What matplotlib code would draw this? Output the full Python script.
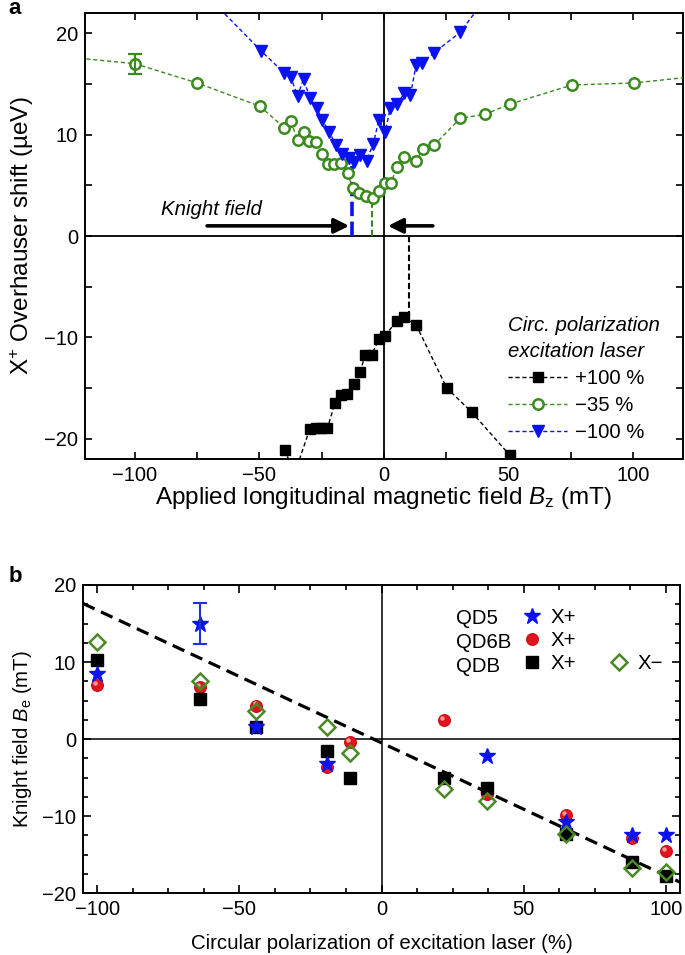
import matplotlib
matplotlib.use('Agg')
import matplotlib.pyplot as plt
from matplotlib.lines import Line2D
from matplotlib.ticker import MultipleLocator
from matplotlib.transforms import offset_copy

plt.rcParams['font.family'] = ['Liberation Sans', 'DejaVu Sans']
plt.rcParams['font.size'] = 14.5
plt.rcParams['mathtext.fontset'] = 'custom'
plt.rcParams['mathtext.rm'] = 'Liberation Sans'
plt.rcParams['mathtext.it'] = 'Liberation Sans:italic'
plt.rcParams['mathtext.bf'] = 'Liberation Sans:bold'

# ---------------- Panel a data ----------------
# +100 % excitation (black squares)
p100_x = [-39.8, -36.0, -29.7, -27.4, -25.1, -22.7, -19.7, -17.3, -15.0, -12.2, -9.5,
          -7.6, -4.9, -2.1, 0.4, 5.2, 7.9, 12.9, 25.2, 35.3, 50.4]
p100_y = [-21.1, -23.5, -19.0, -18.9, -18.9, -18.95, -16.5, -15.7, -15.6, -14.6, -13.4,
          -11.7, -11.7, -10.2, -9.85, -8.35, -8.0, -8.77, -15.0, -17.4, -21.6]

# -35 % excitation (green open circles)
m35_x = [-150, -100, -75, -49.8, -40.1, -37.4, -34.7, -32.3, -30.0, -27.4, -24.9, -22.4,
         -20.0, -17.3, -14.6, -12.6, -9.9, -7.2, -4.5, -2.1, 0.5, 2.8, 5.2, 7.9, 12.9,
         15.6, 20.2, 30.6, 40.4, 50.4, 75.5, 100.5, 150]
m35_y = [18.2, 17.0, 15.1, 12.8, 10.7, 11.3, 9.46, 10.3, 9.4, 9.3, 8.1, 7.06,
         7.06, 7.2, 6.2, 4.7, 4.27, 3.94, 3.7, 4.43, 5.2, 5.25, 6.8, 7.75, 7.4,
         8.6, 9.0, 11.6, 12.0, 13.0, 14.9, 15.1, 16.4]
m35_err_x = [-100]
m35_err_y = [17.0]
m35_err = [1.0]

# -100 % excitation (blue down triangles)
m100_x = [-75, -49.5, -40.1, -37.4, -34.7, -32.3, -29.7, -27.0, -24.7, -22.0, -19.3, -16.9,
          -14.2, -11.9, -9.7, -7.0, -4.3, -2.1, 0.5, 2.5, 5.2, 8.2, 10.6, 12.9, 15.3,
          20.2, 30.6, 40]
m100_y = [24.7, 18.3, 16.1, 15.7, 13.8, 15.5, 13.6, 12.6, 11.4, 10.3, 8.97, 8.1,
          7.7, 7.3, 7.98, 7.4, 9.1, 11.4, 10.3, 12.6, 13.0, 14.1, 13.9, 16.9, 17.1,
          18.1, 20.1, 23.2]

# Knight field markers (vertical dashed lines)
knight_x = [-12.9, -5.0, 10.2]
knight_top = [6.9, 3.6, -7.6]

# arrows (tail x, head x) at height
arrow_tail = [-71.0, 19.6]
arrow_head = [-14.0, 1.6]
arrow_y = 1.0

legend_a_labels = ['+100 %', '\u221235 %', '\u2212100 %']

# ---------------- Panel b data ----------------
qd5_x = [-100, -64, -44, -19, 37, 65, 88, 100]
qd5_y = [8.5, 15.0, 1.5, -3.2, -2.2, -10.8, -12.5, -12.5]
qd5_err_x = [-64]
qd5_err_y = [15.0]
qd5_err = [2.6]

qd6b_x = [-100, -64, -44, -19, -11, 22, 37, 65, 88, 100]
qd6b_y = [6.95, 6.7, 4.35, -3.6, -0.4, 2.5, -7.2, -9.9, -12.9, -14.6]

qdb_xp_x = [-100, -64, -44, -19, -11, 22, 37, 65, 88, 100]
qdb_xp_y = [10.2, 5.2, 1.5, -1.5, -5.0, -5.0, -6.4, -12.4, -16.0, -17.8]

qdb_xm_x = [-100, -64, -44, -19, -11, 22, 37, 65, 88, 100]
qdb_xm_y = [12.6, 7.5, 3.7, 1.6, -1.8, -6.5, -8.0, -12.4, -16.7, -17.3]

fit_x = [-105, 105]
fit_y = [17.6, -18.6]

# ---------------- styles ----------------
GREEN = '#3b8a1e'
BLUE = '#0a12f2'
RED = '#e3131b'
DGREEN = '#4a8a25'
W, H = 685, 955
FS = 14.7
FS_A_LABEL = 17.5

fig = plt.figure(figsize=(W / 100, H / 100), dpi=100)
axa = fig.add_axes([85 / W, 1 - 459 / H, (683 - 85) / W, (459 - 13) / H])
axb = fig.add_axes([83 / W, 1 - 893 / H, (680 - 83) / W, (893 - 585) / H])

for ax in (axa, axb):
    for s in ax.spines.values():
        s.set_linewidth(1.4)
    ax.tick_params(which='both', direction='in', top=True, right=True, width=1.2,
                   labelsize=14.5, pad=5)

# ---------------- Panel a ----------------
axa.axhline(0, color='k', lw=1.3, zorder=1)
axa.axvline(0, color='k', lw=1.3, zorder=1)

la1, = axa.plot(p100_x, p100_y, ls=(0, (3, 2)), lw=1.0, color='k', marker='s', ms=7.5,
                mfc='k', mec='k', zorder=3)
la2, = axa.plot(m35_x, m35_y, ls=(0, (3, 2)), lw=1.0, color=GREEN, marker='o', ms=7.5,
                mfc='white', mec=GREEN, mew=1.8, zorder=3)
axa.errorbar(m35_err_x, m35_err_y, yerr=m35_err, fmt='none', ecolor=GREEN, elinewidth=1.6,
             capsize=5, capthick=1.6, zorder=3)
la3, = axa.plot(m100_x, m100_y, ls=(0, (3, 2)), lw=1.0, color=BLUE, marker='v', ms=9,
                mfc=BLUE, mec=BLUE, zorder=4)

kstyles = [dict(color=BLUE, lw=2.6, ls=(0, (4, 1.5))),
           dict(color=GREEN, lw=1.5, ls=(0, (3, 1.5))),
           dict(color='k', lw=1.5, ls=(0, (3, 1.5)))]
for kx, kt, st in zip(knight_x, knight_top, kstyles):
    axa.plot([kx, kx], [0, kt], zorder=2, **st)

for t, h in zip(arrow_tail, arrow_head):
    axa.annotate('', xy=(h, arrow_y), xytext=(t, arrow_y),
                 arrowprops=dict(arrowstyle='-|>', lw=2.6, color='k', mutation_scale=22,
                                 shrinkA=0, shrinkB=0))
axa.text(-89.3, 2.6, 'Knight field', style='italic', fontsize=FS, ha='left', va='center')

axa.set_xlim(-120, 120)
axa.set_ylim(-22, 22)
axa.xaxis.set_major_locator(MultipleLocator(50))
axa.xaxis.set_minor_locator(MultipleLocator(25))
axa.yaxis.set_major_locator(MultipleLocator(10))
axa.yaxis.set_minor_locator(MultipleLocator(5))
axa.tick_params(which='both', length=5)
axa.set_xlabel('Applied longitudinal magnetic field $\\mathit{B}_\\mathrm{z}$ (mT)',
               fontsize=FS_A_LABEL, labelpad=0)
axa.set_ylabel('X$^{+}$ Overhauser shift (\u00b5eV)', fontsize=FS_A_LABEL, labelpad=6)

lega = axa.legend([la1, la2, la3], legend_a_labels,
                  title='Circ. polarization\nexcitation laser',
                  title_fontproperties={'style': 'italic', 'size': FS},
                  loc='upper left', bbox_to_anchor=((508 - 85) / (683 - 85), (459 - 316) / 446),
                  frameon=False, alignment='left', handlelength=2.9, handletextpad=0.4,
                  labelspacing=0.4, borderpad=0, borderaxespad=0, numpoints=1,
                  fontsize=FS)
lega.get_title().set_linespacing(1.45)

# ---------------- Panel b ----------------
axb.axhline(0, color='k', lw=1.1, zorder=1)
axb.axvline(0, color='k', lw=1.1, zorder=1)
axb.plot(fit_x, fit_y, color='k', lw=2.3, ls=(0, (4, 2.2)), zorder=2)

hc, = axb.plot(qd6b_x, qd6b_y, ls='none', marker='o', ms=8.5, mfc=RED, mec='#c80d14',
               mew=0.8, zorder=3)
# specular highlight of the shaded red spheres
hl_tr = offset_copy(axb.transData, fig=fig, x=-1.3, y=1.5, units='points')
axb.plot(qd6b_x, qd6b_y, ls='none', marker='o', ms=3.2, mfc='#ffb4b4', mec='none',
         alpha=0.85, zorder=3.1, transform=hl_tr)
hs, = axb.plot(qdb_xp_x, qdb_xp_y, ls='none', marker='s', ms=8, mfc='k', mec='k', zorder=4)
hst, = axb.plot(qd5_x, qd5_y, ls='none', marker='*', ms=12, mfc=BLUE, mec=BLUE, zorder=5)
axb.errorbar(qd5_err_x, qd5_err_y, yerr=qd5_err, fmt='none', ecolor='#2030e0',
             elinewidth=1.5, capsize=5, capthick=1.5, zorder=5)
hd, = axb.plot(qdb_xm_x, qdb_xm_y, ls='none', marker='D', ms=8, mfc='none', mec=DGREEN,
               mew=1.8, zorder=6)

axb.set_xlim(-105, 105)
axb.set_ylim(-20, 20)
axb.xaxis.set_major_locator(MultipleLocator(50))
axb.xaxis.set_minor_locator(MultipleLocator(12.5))
axb.yaxis.set_major_locator(MultipleLocator(10))
axb.yaxis.set_minor_locator(MultipleLocator(2.5))
axb.tick_params(which='major', length=6)
axb.tick_params(which='minor', length=3.5)
axb.set_xlabel('Circular polarization of excitation laser (%)', fontsize=FS, labelpad=11)
axb.set_ylabel('Knight field $\\mathit{B}_\\mathrm{e}$ (mT)', fontsize=FS, labelpad=6)

qd_names = ['QD5', 'QD6B', 'QDB']
for i, nm in enumerate(qd_names):
    axb.text((456 - 83) / (680 - 83), (893 - 619 - 23.5 * i) / (893 - 585), nm,
             fontsize=FS, ha='left', va='center', transform=axb.transAxes)

blank = Line2D([], [], ls='none', marker=None)
legb = axb.legend([hst, hc, hs, blank, blank, hd], ['X+', 'X+', 'X+', '', '', 'X\u2212'],
                  ncol=2, loc='upper left',
                  bbox_to_anchor=((522 - 83) / (680 - 83), (893 - 608) / (893 - 585)),
                  frameon=False, handlelength=1.0, handletextpad=0.4, labelspacing=0.2,
                  columnspacing=1.6, borderpad=0, borderaxespad=0, fontsize=FS)

fig.text(15 / W, 1 - 9 / H, 'a', fontsize=16, fontweight='bold', ha='center', va='center')
fig.text(15 / W, 1 - 577 / H, 'b', fontsize=16, fontweight='bold', ha='center', va='center')

fig.savefig('out.png', dpi=100)
